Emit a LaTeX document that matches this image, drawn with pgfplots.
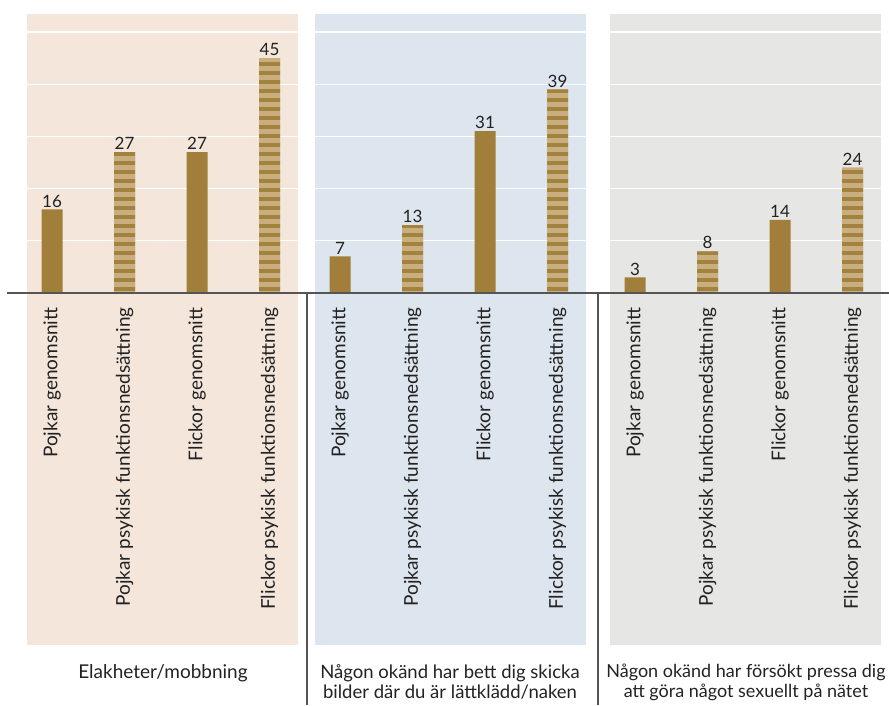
\documentclass[border=0pt]{standalone}
\usepackage{fontspec}
\setmainfont{Lato}
\usepackage{pgfplots}
\pgfplotsset{compat=1.18}
\usetikzlibrary{patterns.meta}
\definecolor{bgA}{HTML}{F4E6DB}
\definecolor{bgB}{HTML}{DDE5EF}
\definecolor{bgC}{HTML}{E6E6E4}
\definecolor{barS}{HTML}{A17F3A}
\definecolor{stripeL}{HTML}{C9AF80}
\definecolor{stripeD}{HTML}{A3823E}
\definecolor{txt}{HTML}{222222}
\definecolor{rule}{HTML}{555555}
\tikzdeclarepattern{
  name=coins, type=colored,
  bottom left={(0pt,0pt)}, top right={(10pt,9pt)}, tile size={(10pt,9pt)},
  code={\fill[stripeD] (0pt,0pt) rectangle (10pt,4.5pt); \fill[stripeL] (0pt,4.5pt) rectangle (10pt,9pt);}
}
\pgfplotsset{panel/.style={
  scale only axis, width=271pt, height=631pt,
  xmin=-0.345, xmax=3.393, ymin=-67.43, ymax=53.45,
  axis x line*=middle, axis y line*=left,
  axis line style={draw=none},
  ytick={10,20,30,40,50}, yticklabels={}, ymajorgrids,
  grid style={white, line width=1.2pt},
  xtick={0,1,2,3}, major tick length=0pt,
  xticklabels={Pojkar genomsnitt, Pojkar psykisk funktionsnedsättning, Flickor genomsnitt, Flickor psykisk funktionsnedsättning},
  xticklabel style={rotate=90, anchor=east, font=\fontsize{19}{19}\selectfont, text=txt},
  xticklabel shift=11pt,
  ybar, bar width=21pt, bar shift=0pt,
  nodes near coords,
  nodes near coords style={font=\fontsize{17}{17}\selectfont, text=txt, anchor=south, inner sep=2pt, /pgf/number format/assume math mode=true},
  clip=false,
  anchor=south west,
},
solidbar/.style={fill=barS, draw=none},
stripebar/.style={fill=stripeL, draw=none, postaction={pattern=coins}},
}
\begin{document}
\begin{tikzpicture}
\useasboundingbox (0,0) rectangle (889pt,705pt);
\begin{axis}[panel, at={(27pt,60pt)}, axis background/.style={fill=bgA}]
\addplot[solidbar] coordinates {(0,16) (2,27)};
\addplot[stripebar] coordinates {(1,27) (3,45)};
\end{axis}
\begin{axis}[panel, at={(315pt,60pt)}, axis background/.style={fill=bgB}]
\addplot[solidbar] coordinates {(0,7) (2,31)};
\addplot[stripebar] coordinates {(1,13) (3,39)};
\end{axis}
\begin{axis}[panel, at={(610pt,60pt)}, axis background/.style={fill=bgC}]
\addplot[solidbar] coordinates {(0,3) (2,14)};
\addplot[stripebar] coordinates {(1,8) (3,24)};
\end{axis}
\draw[rule, line width=1.3pt] (7pt,412pt) -- (889pt,412pt);
\draw[rule, line width=1.3pt] (307pt,412pt) -- (307pt,0pt);
\draw[rule, line width=1.3pt] (598pt,412pt) -- (598pt,0pt);
\node[text=txt, font=\fontsize{19}{20}\selectfont, align=center] at (163pt,32pt) {Elakheter/mobbning};
\node[text=txt, font=\fontsize{18.5}{20}\selectfont, align=center] at (450pt,23pt) {Någon okänd har bett dig skicka\\bilder där du är lättklädd/naken};
\node[text=txt, font=\fontsize{18}{20}\selectfont, align=center] at (746pt,23pt) {Någon okänd har försökt pressa dig\\att göra något sexuellt på nätet};
\end{tikzpicture}
\end{document}
